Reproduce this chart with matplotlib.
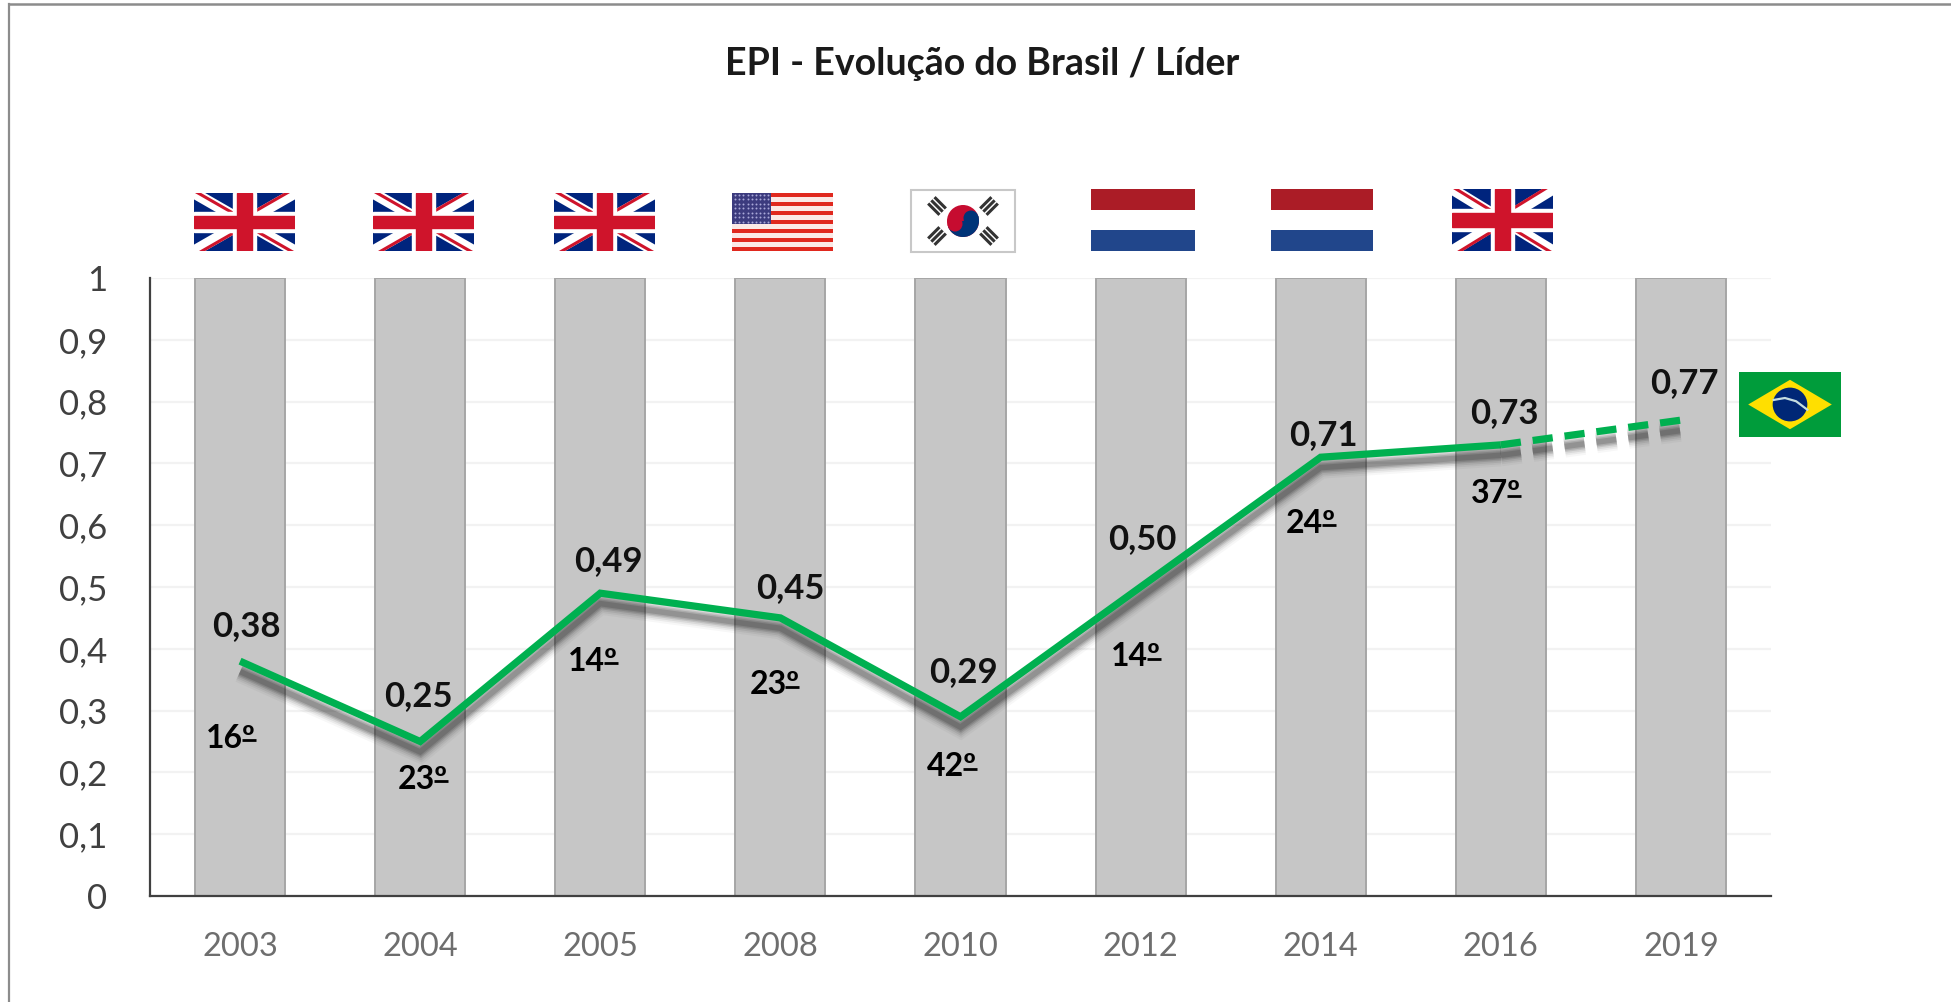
import numpy as np
import matplotlib
matplotlib.use("Agg")
import matplotlib.pyplot as plt
import matplotlib.patches as mpatches
import matplotlib.patheffects as pe
from matplotlib.lines import Line2D
from matplotlib.transforms import IdentityTransform

plt.rcParams["font.family"] = ["Lato", "DejaVu Sans"]

# Data
years = ["2003", "2004", "2005", "2008", "2010", "2012", "2014", "2016", "2019"]
epi_values = [0.38, 0.25, 0.49, 0.45, 0.29, 0.50, 0.71, 0.73, 0.77]
epi_labels = ["0,38", "0,25", "0,49", "0,45", "0,29", "0,50", "0,71", "0,73", "0,77"]
ranks = ["16º", "23º", "14º", "23º", "42º", "14º", "24º", "37º"]
bar_heights = [1, 1, 1, 1, 1, 1, 1, 1, 1]
y_ticks = [0, 0.1, 0.2, 0.3, 0.4, 0.5, 0.6, 0.7, 0.8, 0.9, 1]
y_tick_labels = ["0", "0,1", "0,2", "0,3", "0,4", "0,5", "0,6", "0,7", "0,8", "0,9", "1"]
leaders = ["uk", "uk", "uk", "us", "kr", "nl", "nl", "uk"]

W, H = 1951, 1002
GREEN = "#00b050"

# Label offsets from each point, in image pixels (right, up)
label_offsets = [(6, 35), (-2, 45), (8, 32), (10, 30), (3, 45), (2, 48), (3, 22), (4, 32), (3, 37)]
rank_offsets = [(-9, -77), (3, -38), (-7, -68), (-6, -67), (-9, -50), (-5, -70), (-10, -66), (-5, -49)]

# Flag boxes in image pixels (x0, y0, x1, y1) from the top left
flag_boxes = [(194, 193, 295, 251), (373, 193, 474, 251), (554, 193, 655, 251),
              (732, 193, 833, 251), (911, 190, 1015, 252), (1091, 189, 1195, 251),
              (1271, 189, 1373, 251), (1452, 189, 1553, 251)]
brazil_box = (1739, 372, 1841, 437)


def add_box_axes(fig, box):
    """Axes covering a pixel box, with a 0-1 coordinate system."""
    x0, y0, x1, y1 = box
    ax = fig.add_axes([x0 / W, 1 - y1 / H, (x1 - x0) / W, (y1 - y0) / H])
    ax.set_xlim(0, 1)
    ax.set_ylim(0, 1)
    ax.axis("off")
    return ax


def draw_uk(ax):
    ax.add_patch(mpatches.Rectangle((0, 0), 1, 1, color="#00247d", zorder=1))
    # White diagonals, then the thin offset red ones
    ax.plot([0, 1], [0, 1], color="white", lw=8, solid_capstyle="butt", zorder=2)
    ax.plot([0, 1], [1, 0], color="white", lw=8, solid_capstyle="butt", zorder=2)
    ax.plot([0, 0.5], [1.04, 0.54], color="#cf142b", lw=2.2, zorder=3)
    ax.plot([0.5, 1], [0.46, -0.04], color="#cf142b", lw=2.2, zorder=3)
    ax.plot([0.04, 0.5], [-0.04, 0.42], color="#cf142b", lw=2.2, zorder=3)
    ax.plot([0.5, 0.96], [0.58, 1.04], color="#cf142b", lw=2.2, zorder=3)
    ax.add_patch(mpatches.Rectangle((0.39, 0), 0.22, 1, color="white", zorder=4))
    ax.add_patch(mpatches.Rectangle((0, 0.33), 1, 0.34, color="white", zorder=4))
    ax.add_patch(mpatches.Rectangle((0.43, 0), 0.14, 1, color="#cf142b", zorder=5))
    ax.add_patch(mpatches.Rectangle((0, 0.39), 1, 0.22, color="#cf142b", zorder=5))


def draw_us(ax):
    for i in range(13):
        color = "#e0281e" if i % 2 == 0 else "#fbe9e6"
        ax.add_patch(mpatches.Rectangle((0, i / 13), 1, 1 / 13, color=color, lw=0))
    ax.add_patch(mpatches.Rectangle((0, 6 / 13), 0.39, 7 / 13, color="#3c3b7e", lw=0, zorder=2))
    gx, gy = np.meshgrid(np.linspace(0.03, 0.36, 9), np.linspace(0.5, 0.97, 7))
    ax.scatter(gx.ravel(), gy.ravel(), s=2, color="#a9a8d8", lw=0, zorder=3)


def draw_kr(ax):
    ax.add_patch(mpatches.Rectangle((0, 0), 1, 1, fc="white", ec="#c8c8c8", lw=1.5, clip_on=False))
    ax2 = ax.inset_axes([0, 0, 1, 1])
    ax2.set_xlim(-52, 52)
    ax2.set_ylim(-31, 31)
    ax2.axis("off")
    ax2.add_patch(mpatches.Circle((0, 0), 16, color="#c60c30", lw=0))
    ax2.add_patch(mpatches.Wedge((0, 0), 16, 200, 380, color="#003478", lw=0))
    ax2.add_patch(mpatches.Circle((8, 3), 7.5, color="#003478", lw=0))
    ax2.add_patch(mpatches.Circle((-8, -3), 7.5, color="#c60c30", lw=0))
    for cx, cy, ang in [(-26, 15, 45), (26, 15, -45), (-26, -15, -45), (26, -15, 45)]:
        t = np.radians(ang)
        for off in (-4.5, 0, 4.5):
            px = cx + off * np.cos(t)
            py = cy + off * np.sin(t)
            dx = 8 * -np.sin(t)
            dy = 8 * np.cos(t)
            ax2.plot([px - dx, px + dx], [py - dy, py + dy], color="#333333", lw=2.2,
                     solid_capstyle="butt")


def draw_nl(ax):
    ax.add_patch(mpatches.Rectangle((0, 2 / 3), 1, 1 / 3, color="#ab1c26", lw=0))
    ax.add_patch(mpatches.Rectangle((0, 0), 1, 1 / 3, color="#21468b", lw=0))


def draw_br(ax):
    ax.add_patch(mpatches.Rectangle((0, 0), 1, 1, color="#009c3b", lw=0))
    ax.add_patch(mpatches.Polygon([(0.09, 0.5), (0.5, 0.88), (0.91, 0.5), (0.5, 0.12)],
                                  color="#ffdf00", lw=0))
    ax.add_patch(mpatches.Ellipse((0.5, 0.5), 0.34, 0.52, color="#002776", lw=0))
    ax.plot([0.34, 0.45, 0.56, 0.67], [0.57, 0.6, 0.55, 0.42], color="#c5dde0", lw=1.6)


flag_painters = {"uk": draw_uk, "us": draw_us, "kr": draw_kr, "nl": draw_nl}


def main():
    fig = plt.figure(figsize=(W / 100, H / 100), dpi=100, facecolor="white")

    # Outer frame, only top and left are visible
    fig.add_artist(Line2D([9 / W, 9 / W], [0, 1 - 4 / H], color="#8c8c8c", lw=1.6))
    fig.add_artist(Line2D([9 / W, 1], [1 - 4 / H, 1 - 4 / H], color="#8c8c8c", lw=1.8))

    left, right, top, bottom = 150, 1771, 278, 896
    ax = fig.add_axes([left / W, 1 - bottom / H, (right - left) / W, (bottom - top) / H])
    x = np.arange(len(years))
    ax.set_xlim(-0.5, len(years) - 0.5)
    ax.set_ylim(0, 1)

    # Bars and grid
    ax.set_axisbelow(True)
    ax.grid(axis="y", color="#f2f2f2", lw=1.6)
    ax.bar(x, bar_heights, width=0.5, color="#c6c6c6", edgecolor="#a6a6a6", lw=1.4, zorder=2)

    # Line with a soft shadow, last segment dashed
    shadow = [pe.SimpleLineShadow(offset=(0, -7.5), shadow_color="k", alpha=a, rho=1, linewidth=w)
              for w, a in [(16, 0.03), (13, 0.05), (10.5, 0.07), (8, 0.10), (6, 0.12), (4, 0.14)]]
    ax.plot(x[:-1], epi_values[:-1], color=GREEN, lw=5.2, solid_joinstyle="miter", zorder=4,
            solid_capstyle="butt", path_effects=shadow + [pe.Normal()])
    ax.plot(x[-2:], epi_values[-2:], color=GREEN, lw=5.2, zorder=4, dash_capstyle="butt",
            linestyle=(0, (2.8, 1.65)), path_effects=shadow + [pe.Normal()])

    # Labels
    for xi, val, lab, off in zip(x, epi_values, epi_labels, label_offsets):
        ax.annotate(lab, (xi, val), xytext=(off[0] * 0.72, off[1] * 0.72), textcoords="offset points",
                    ha="center", va="center", fontsize=25, color="#111111", fontweight="bold", zorder=6)
    rank_texts = []
    for xi, val, lab, off in zip(x, epi_values, ranks, rank_offsets):
        rank_texts.append(ax.annotate(lab, (xi, val), xytext=(off[0] * 0.72, off[1] * 0.72),
                                      textcoords="offset points", ha="center", va="center",
                                      fontsize=23, color="black", fontweight="bold", zorder=6))

    # Axes styling
    for side in ("top", "right"):
        ax.spines[side].set_visible(False)
    for side in ("left", "bottom"):
        ax.spines[side].set_color("#404040")
        ax.spines[side].set_linewidth(1.6)
        ax.spines[side].set_zorder(5)
    ax.set_xticks(x, years)
    ax.set_yticks(y_ticks, y_tick_labels)
    ax.tick_params(axis="both", length=0)
    ax.tick_params(axis="x", labelsize=23.5, labelcolor="#6e6e6e", pad=26)
    ax.tick_params(axis="y", labelsize=25, labelcolor="#404040", pad=31)

    fig.text(982 / W, 1 - 64 / H, "EPI - Evolução do Brasil / Líder", ha="center", va="center",
             fontsize=27, fontweight="bold", color="#1a1a1a")

    # Flags
    for name, box in zip(leaders, flag_boxes):
        flag_painters[name](add_box_axes(fig, box))
    draw_br(add_box_axes(fig, brazil_box))

    # Underline the ordinal sign, the fonts here draw it without one
    renderer = fig.canvas.get_renderer()
    for t in rank_texts:
        bbox = t.get_window_extent(renderer)
        y_u = bbox.y0 + bbox.height * 0.44
        fig.add_artist(Line2D([bbox.x1 - 14, bbox.x1], [y_u, y_u], color="black", lw=2,
                              transform=IdentityTransform(), solid_capstyle="butt"))

    fig.savefig("out.png", dpi=100)


if __name__ == "__main__":
    main()
